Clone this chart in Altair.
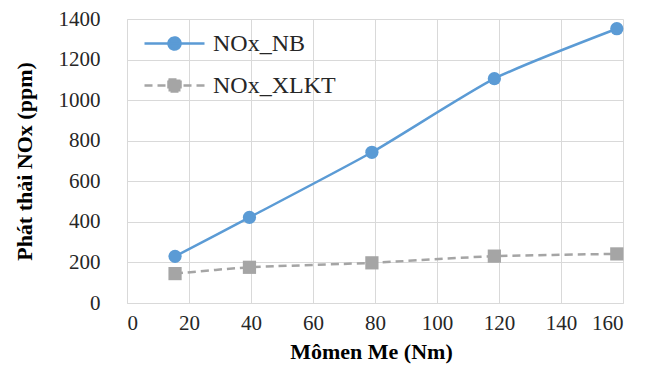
import altair as alt
import pandas as pd

torque = [15.5, 39.5, 79, 118.5, 158]
nox_nb = [230, 422, 743, 1106, 1352]
nox_xlkt = [145, 176, 198, 231, 242]
series_names = ["NOx_NB", "NOx_XLKT"]
colors = ["#5B9BD5", "#A5A5A5"]
x_ticks = [0, 20, 40, 60, 80, 100, 120, 140, 160]
y_ticks = [0, 200, 400, 600, 800, 1000, 1200, 1400]

rows = []
for name, vals in zip(series_names, [nox_nb, nox_xlkt]):
    for x, v in zip(torque, vals):
        rows.append({"x": x, "y": v, "s": name})
df = pd.DataFrame(rows)

FONT = "Liberation Serif"
dash_range = [[1, 0], [8, 5]]
legend_paths = [
    "M-1.5,0H1.5M0.3,0A0.3,0.3 0 1,1 -0.3,0A0.3,0.3 0 1,1 0.3,0Z",
    "M-1.5,0H1.5M-0.3,-0.3H0.3V0.3H-0.3Z",
]

axis_style = dict(
    labelFont=FONT, labelFontSize=21, labelColor="#262626",
    titleFont=FONT, titleFontSize=22, titleFontWeight="bold", titleColor="#000000",
    grid=True, gridColor="#D9D9D9", gridWidth=1,
    domain=True, domainColor="#D9D9D9", ticks=False, format="d",
)

x_enc = alt.X(
    "x:Q",
    scale=alt.Scale(domain=[0, 160], nice=False),
    axis=alt.Axis(
        values=x_ticks, title="Mômen Me (Nm)", labelPadding=9,
        titleX=244, titleY=48, titleBaseline="middle", titleAlign="center",
        **axis_style,
    ),
)
y_enc = alt.Y(
    "y:Q",
    scale=alt.Scale(domain=[0, 1400], nice=False),
    axis=alt.Axis(
        values=y_ticks, title="Phát thải NOx (ppm)", labelPadding=27,
        titleX=-103, titleY=142, titleBaseline="middle", titleAlign="center",
        **axis_style,
    ),
)

base = alt.Chart(df)

line_nb = base.transform_filter(alt.datum.s == series_names[0]).mark_line(
    strokeWidth=2.5, interpolate="cardinal", tension=0.4, color=colors[0]
).encode(x=x_enc, y=y_enc)
line_xl = base.transform_filter(alt.datum.s == series_names[1]).mark_line(
    strokeWidth=2.5, interpolate="cardinal", tension=0.4, color=colors[1], strokeDash=dash_range[1]
).encode(x=x_enc, y=y_enc)

points_nb = base.transform_filter(alt.datum.s == series_names[0]).mark_circle(
    size=175, opacity=1, color=colors[0]
).encode(x=x_enc, y=y_enc)
points_xl = base.transform_filter(alt.datum.s == series_names[1]).mark_square(
    size=175, opacity=1, color=colors[1]
).encode(x=x_enc, y=y_enc)

leg = alt.Legend(
    title=None, orient="none", legendX=26, legendY=3, symbolSize=1600,
    symbolStrokeWidth=2.5, labelFont=FONT, labelFontSize=24, labelColor="#262626",
    labelOffset=17, rowPadding=8, padding=0, symbolOpacity=1,
)

color_scale = alt.Scale(domain=series_names, range=colors)
legend_layer = base.transform_filter("false").mark_point(size=1600, strokeWidth=2.5).encode(
    x=x_enc,
    y=y_enc,
    fill=alt.Fill("s:N", scale=color_scale, legend=leg),
    stroke=alt.Stroke("s:N", scale=color_scale, legend=leg),
    shape=alt.Shape("s:N", scale=alt.Scale(domain=series_names, range=legend_paths), legend=leg),
    strokeDash=alt.StrokeDash("s:N", scale=alt.Scale(domain=series_names, range=dash_range), legend=leg),
)

chart = (
    alt.layer(line_nb, line_xl, points_nb, points_xl, legend_layer)
    .properties(
        width=496, height=284,
        autosize=alt.AutoSizeParams(type="none"),
        padding={"left": 119, "top": 11, "right": 27, "bottom": 61},
    )
    .configure_view(stroke="transparent")
)

chart.save("out.html", embed_options={"renderer": "svg", "actions": False})
